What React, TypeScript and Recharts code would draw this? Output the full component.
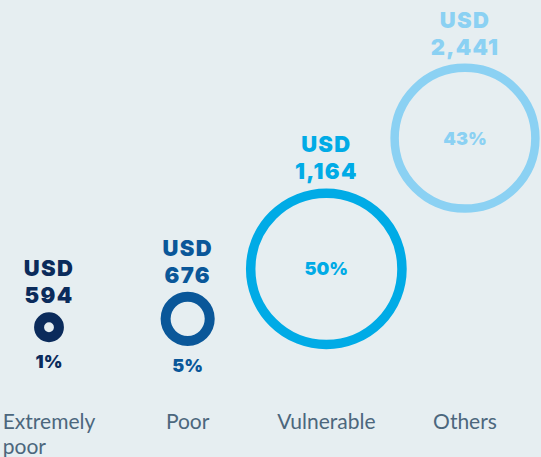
import React from 'react';
import { ScatterChart, Scatter, XAxis, YAxis, ZAxis } from 'recharts';

// ---- data ----
const CATEGORIES = ['Extremely poor', 'Poor', 'Vulnerable', 'Others'];
const USD_VALUES = [594, 676, 1164, 2441];
const SHARES = [1, 5, 50, 43];
const CURRENCY = 'USD';

// ---- styles ----
const COLORS = ['#0b2b5b', '#0a5799', '#00abe6', '#8bd1f3'];
const RING_WIDTHS = [10, 10, 9.5, 8.5];
const BG = '#e6eef1';
const LABEL_COLOR = '#4c677d';
const HEAVY = "Inter, 'Open Sans', sans-serif";
const LIGHT = "Lato, 'Open Sans', sans-serif";
const LABEL_FONT_SIZE = 21;
const VALUE_FONT_SIZE = 22;
const VALUE_LINE_GAP = 27;

const data = CATEGORIES.map((category, idx) => ({
  idx,
  category,
  usd: USD_VALUES[idx],
  share: SHARES[idx],
}));

const fmt = (v: number) => v.toLocaleString('en-US');

let ctx: CanvasRenderingContext2D | null = null;
const measure = (text: string, font: string) => {
  if (!ctx && typeof document !== 'undefined') {
    ctx = document.createElement('canvas').getContext('2d');
  }
  if (!ctx) return text.length * 10;
  ctx.font = font;
  return ctx.measureText(text).width;
};

const wrap = (label: string, maxW: number, font: string) => {
  const words = label.split(' ');
  const lines: string[] = [];
  let cur = '';
  words.forEach((w) => {
    const next = cur ? cur + ' ' + w : w;
    if (cur && measure(next, font) > maxW) {
      lines.push(cur);
      cur = w;
    } else {
      cur = next;
    }
  });
  if (cur) lines.push(cur);
  return lines;
};

const Ring = (props: any) => {
  const { cx, cy, width, payload } = props;
  const i = payload.idx;
  const r = width / 2;
  const sw = RING_WIDTHS[i];
  const color = COLORS[i];
  const valueBase = cy - r - 9;
  const inside = r > 40;
  return (
    <g>
      <circle cx={cx} cy={cy} r={r - sw / 2} fill="none" stroke={color} strokeWidth={sw} />
      <text
        textAnchor="middle"
        fill={color}
        fontFamily={HEAVY}
        fontWeight={900}
        fontSize={VALUE_FONT_SIZE}
        letterSpacing={1.3}
      >
        <tspan x={cx} y={valueBase - VALUE_LINE_GAP}>{CURRENCY}</tspan>
        <tspan x={cx} y={valueBase}>{fmt(payload.usd)}</tspan>
      </text>
      <text
        x={cx}
        y={inside ? cy + 6.5 : cy + r + 26}
        textAnchor="middle"
        fill={color}
        fontFamily={HEAVY}
        fontWeight={900}
        fontSize={18}
      >
        {payload.share}%
      </text>
    </g>
  );
};

const CategoryTick = (props: any) => {
  const { x, y, payload } = props;
  const label = CATEGORIES[payload.value] ?? '';
  const font = `${LABEL_FONT_SIZE}px Lato`;
  const lines = wrap(label, 110, font);
  const widest = Math.max(...lines.map((l) => measure(l, font)));
  const single = lines.length === 1;
  return (
    <text
      x={single ? x : x - widest / 2}
      y={y + 41}
      textAnchor={single ? 'middle' : 'start'}
      fill={LABEL_COLOR}
      fontFamily={LIGHT}
      fontSize={LABEL_FONT_SIZE}
    >
      {lines.map((l, k) => (
        <tspan key={k} x={single ? x : x - widest / 2} dy={k === 0 ? 0 : 25}>
          {l}
        </tspan>
      ))}
    </text>
  );
};

export default function App() {
  return (
    <div style={{ position: 'fixed', left: 0, top: 0, width: 541, height: 457, background: BG }}>
      <ScatterChart width={541} height={457} margin={{ top: 81, right: 76, bottom: 9, left: 49 }}>
        <XAxis
          type="number"
          dataKey="idx"
          domain={[0, 3]}
          ticks={[0, 1, 2, 3]}
          interval={0}
          axisLine={false}
          tickLine={false}
          tickSize={0}
          tickMargin={0}
          height={60}
          tick={<CategoryTick />}
        />
        <YAxis type="number" dataKey="usd" domain={[0, 3000]} hide />
        <ZAxis type="number" dataKey="share" domain={[0, 50]} range={[300, 20300]} />
        <Scatter data={data} shape={(p: any) => <Ring {...p} />} isAnimationActive={false} />
      </ScatterChart>
    </div>
  );
}
